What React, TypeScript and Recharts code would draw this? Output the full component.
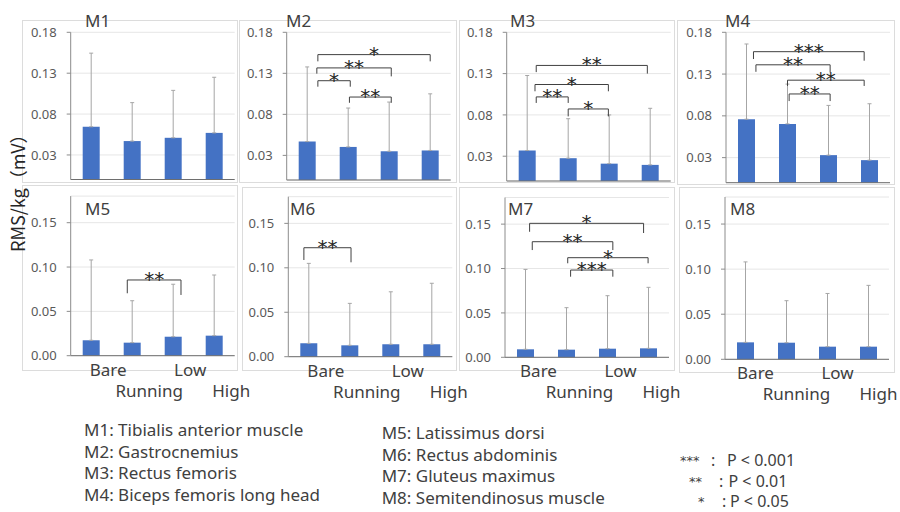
import React from "react";
import { BarChart, Bar, XAxis, YAxis, CartesianGrid, ErrorBar, ReferenceLine } from "recharts";

const conditions = ["Bare", "Running", "Low", "High"];

const muscleNames = [
  "M1: Tibialis anterior muscle",
  "M2: Gastrocnemius",
  "M3: Rectus femoris",
  "M4: Biceps femoris long head",
  "M5: Latissimus dorsi",
  "M6: Rectus abdominis",
  "M7: Gluteus maximus",
  "M8: Semitendinosus muscle",
];

const pStars = ["***", "**", "*"];
const pLevels = ["P < 0.001", "P < 0.01", "P < 0.05"];

// mean RMS/kg per condition and the upward SD bar
const m1Mean = [0.0645, 0.047, 0.051, 0.057];
const m1Sd = [0.09, 0.047, 0.058, 0.068];
const m2Mean = [0.0468, 0.0403, 0.035, 0.036];
const m2Sd = [0.091, 0.0474, 0.06, 0.069];
const m3Mean = [0.0369, 0.0276, 0.021, 0.0195];
const m3Sd = [0.0908, 0.0478, 0.059, 0.0685];
const m4Mean = [0.076, 0.0704, 0.033, 0.027];
const m4Sd = [0.09, 0.0476, 0.0595, 0.0675];
const m5Mean = [0.0174, 0.0147, 0.0214, 0.0226];
const m5Sd = [0.0906, 0.0473, 0.0592, 0.0684];
const m6Mean = [0.015, 0.0128, 0.014, 0.014];
const m6Sd = [0.09, 0.0472, 0.059, 0.0686];
const m7Mean = [0.009, 0.0086, 0.0097, 0.0101];
const m7Sd = [0.09, 0.0473, 0.0597, 0.0687];
const m8Mean = [0.0188, 0.0184, 0.014, 0.014];
const m8Sd = [0.0892, 0.0466, 0.059, 0.068];

const topTicks = [0.03, 0.08, 0.13, 0.18];
const bottomTicks = [0, 0.05, 0.1, 0.15];

// significance brackets: x in condition units (1..4), y in mV
type Bracket = { x1: number; x2: number; y: number; y1: number; y2: number; s: string };

const m2Brackets: Bracket[] = [
  { x1: 1.26, x2: 4.0, y: 0.1528, y1: 0.1446, y2: 0.1446, s: "*" },
  { x1: 1.235, x2: 3.05, y: 0.1366, y1: 0.1296, y2: 0.1263, s: "**" },
  { x1: 1.26, x2: 2.05, y: 0.121, y1: 0.1137, y2: 0.1137, s: "*" },
  { x1: 2.03, x2: 3.05, y: 0.1011, y1: 0.0941, y2: 0.0941, s: "**" },
];
const m3Brackets: Bracket[] = [
  { x1: 1.22, x2: 3.93, y: 0.1399, y1: 0.1318, y2: 0.13, s: "**" },
  { x1: 1.19, x2: 2.98, y: 0.1168, y1: 0.1086, y2: 0.1086, s: "*" },
  { x1: 1.22, x2: 2.0, y: 0.1018, y1: 0.0945, y2: 0.0945, s: "**" },
  { x1: 2.0, x2: 2.98, y: 0.0872, y1: 0.0782, y2: 0.0782, s: "*" },
];
const m4Brackets: Bracket[] = [
  { x1: 1.17, x2: 3.87, y: 0.1568, y1: 0.148, y2: 0.146, s: "***" },
  { x1: 1.23, x2: 3.04, y: 0.1411, y1: 0.1327, y2: 0.132, s: "**" },
  { x1: 2.0, x2: 3.87, y: 0.1227, y1: 0.1158, y2: 0.1158, s: "**" },
  { x1: 2.04, x2: 3.04, y: 0.1062, y1: 0.0977, y2: 0.0977, s: "**" },
];
const m5Brackets: Bracket[] = [{ x1: 1.88, x2: 3.19, y: 0.0854, y1: 0.0704, y2: 0.0685, s: "**" }];
const m6Brackets: Bracket[] = [{ x1: 0.88, x2: 2.03, y: 0.1226, y1: 0.1088, y2: 0.1062, s: "**" }];
const m7Brackets: Bracket[] = [
  { x1: 1.1, x2: 3.88, y: 0.1509, y1: 0.1414, y2: 0.14, s: "*" },
  { x1: 1.165, x2: 3.13, y: 0.1302, y1: 0.1208, y2: 0.1208, s: "**" },
  { x1: 2.03, x2: 3.99, y: 0.1122, y1: 0.1059, y2: 0.1059, s: "*" },
  { x1: 2.1, x2: 3.13, y: 0.0983, y1: 0.0908, y2: 0.0908, s: "***" },
];

const BAND = 41;
const YW = 40;

const panels = [
  { name: "M1", mean: m1Mean, sd: m1Sd, br: [] as Bracket[], f: [22, 20, 216, 163], ax: 70.7, top: 32.3, base: 179.5, row: 0, dx: 0, title: [85, 26.7] },
  { name: "M2", mean: m2Mean, sd: m2Sd, br: m2Brackets, f: [239, 20, 218, 163], ax: 286.7, top: 32.3, base: 180, row: 0, dx: 0, title: [286, 26.7] },
  { name: "M3", mean: m3Mean, sd: m3Sd, br: m3Brackets, f: [459, 20, 216, 163], ax: 506.7, top: 32.3, base: 181, row: 0, dx: 0, title: [510, 26.7] },
  { name: "M4", mean: m4Mean, sd: m4Sd, br: m4Brackets, f: [677, 20, 218, 165], ax: 726, top: 32.3, base: 182.7, row: 0, dx: 0, title: [725, 26.7] },
  { name: "M5", mean: m5Mean, sd: m5Sd, br: m5Brackets, f: [22, 185, 216, 186], ax: 70.7, top: 196.1, base: 355.7, row: 1, dx: 17, title: [85, 215] },
  { name: "M6", mean: m6Mean, sd: m6Sd, br: m6Brackets, f: [242, 187, 215, 184], ax: 288.3, top: 196.7, base: 356.7, row: 1, dx: 17, title: [290, 215] },
  { name: "M7", mean: m7Mean, sd: m7Sd, br: m7Brackets, f: [459, 187, 216, 184], ax: 505, top: 197.5, base: 357.3, row: 1, dx: 13, title: [508, 215] },
  { name: "M8", mean: m8Mean, sd: m8Sd, br: [] as Bracket[], f: [679, 187, 216, 186], ax: 725, top: 197, base: 359.3, row: 1, dx: 10, title: [730, 215] },
];

const starLabel = (s: string) => (props: any) => {
  const vb = props.viewBox || {};
  return (
    <text x={vb.x + (vb.width || 0) / 2} y={vb.y + 6} textAnchor="middle" fontFamily="DejaVu Sans" fontSize={20} fill="#262626">
      {s}
    </text>
  );
};

const ConditionTick = (props: any) => {
  const { x, y, payload, dx } = props;
  const i = Math.round(payload.value) - 1;
  const second = i % 2 === 1;
  return (
    <text x={x + dx} y={y + (second ? 41 : 20)} textAnchor="middle" fontFamily="Noto Sans" fontSize={17} fill="#404040">
      {conditions[i]}
    </text>
  );
};

function Panel({ p }: { p: (typeof panels)[number] }) {
  const [fl, ft, fw, fh] = p.f;
  const data = p.mean.map((v, i) => ({ x: i + 1, v, err: [0, p.sd[i]] }));
  const chartW = fw + 40;
  const chartH = p.row === 0 ? fh : fh + 40;
  const ml = p.ax - fl - YW;
  const mt = p.top - ft;
  const mr = chartW - ml - YW - BAND * 4;
  const xh = chartH - mt - (p.base - p.top);
  const bottom = p.row === 1;

  return (
    <>
      <div
        style={{
          position: "absolute",
          left: fl,
          top: ft,
          width: fw,
          height: fh,
          border: "1px solid #dcdcdc",
          boxSizing: "border-box",
        }}
      />
      <div style={{ position: "absolute", left: fl, top: ft }}>
        <BarChart width={chartW} height={chartH} data={data} margin={{ top: mt, right: mr, left: ml, bottom: 0 }}>
          <CartesianGrid vertical={false} stroke="#e6e6e6" />
          <XAxis
            dataKey="x"
            type="number"
            domain={[0.5, 4.5]}
            ticks={[1, 2, 3, 4]}
            interval={0}
            height={xh}
            axisLine={{ stroke: "#6e6e6e" }}
            tickLine={false}
            tickSize={0}
            tickMargin={0}
            tick={bottom ? (t: any) => <ConditionTick {...t} dx={p.dx} /> : false}
          />
          <YAxis
            type="number"
            domain={[0, 0.18]}
            ticks={bottom ? bottomTicks : topTicks}
            interval={0}
            width={YW}
            axisLine={{ stroke: "#8c8c8c" }}
            tickLine={{ stroke: "#8c8c8c" }}
            tickSize={4}
            tickMargin={10}
            tickFormatter={(v: number) => v.toFixed(2)}
            tick={{ fill: "#595959", fontSize: 13, fontFamily: "Noto Sans" }}
          />
          <Bar dataKey="v" fill="#4472c4" barSize={17} isAnimationActive={false}>
            <ErrorBar dataKey="err" direction="y" width={2} stroke="#a6a6a6" strokeWidth={1} isAnimationActive={false} />
          </Bar>
          {p.br.map((b, i) => (
            <React.Fragment key={i}>
              <ReferenceLine
                segment={[{ x: b.x1, y: b.y }, { x: b.x2, y: b.y }]}
                stroke="#404040"
                strokeWidth={1}
                ifOverflow="visible"
                label={starLabel(b.s)}
              />
              <ReferenceLine segment={[{ x: b.x1, y: b.y }, { x: b.x1, y: b.y1 }]} stroke="#404040" strokeWidth={1} ifOverflow="visible" />
              <ReferenceLine segment={[{ x: b.x2, y: b.y }, { x: b.x2, y: b.y2 }]} stroke="#404040" strokeWidth={1} ifOverflow="visible" />
            </React.Fragment>
          ))}
        </BarChart>
      </div>
    </>
  );
}

// legend layout for the p-value key: star start, colon, "P" start, baseline
const pKeyPos = [
  [680, 711, 727, 466],
  [689, 719, 728.5, 487],
  [698, 722, 730, 507],
];

export default function App() {
  return (
    <div style={{ position: "absolute", left: 0, top: 0, width: 900, height: 512, background: "#fff", overflow: "hidden" }}>
      {panels.map((p) => (
        <Panel key={p.name} p={p} />
      ))}
      <svg width={900} height={512} style={{ position: "absolute", left: 0, top: 0, pointerEvents: "none" }}>
        {panels.map((p) => (
          <text key={p.name} x={p.title[0]} y={p.title[1]} fontFamily="Noto Sans" fontSize={17} fill="#404040">
            {p.name}
          </text>
        ))}
        <text transform="translate(25, 252) rotate(-90)" fontFamily="Noto Sans CJK JP" fontSize={18} fill="#262626">
          RMS/kg（mV）
        </text>
        {muscleNames.slice(0, 4).map((n, i) => (
          <text key={n} x={84} y={436 + i * 21.7} fontFamily="Noto Sans" fontSize={17} fill="#404040">
            {n}
          </text>
        ))}
        {muscleNames.slice(4).map((n, i) => (
          <text key={n} x={381.7} y={439 + i * 21.7} fontFamily="Noto Sans" fontSize={17} fill="#404040">
            {n}
          </text>
        ))}
        {pStars.map((s, i) => {
          const [sx, cx, px, by] = pKeyPos[i];
          return (
            <g key={s} fill="#404040">
              <text x={sx} y={by - 1} fontFamily="DejaVu Sans" fontSize={13}>
                {s}
              </text>
              <text x={cx} y={by} fontFamily="Noto Sans" fontSize={16}>
                :
              </text>
              <text x={px} y={by} fontFamily="Noto Sans" fontSize={16}>
                {pLevels[i]}
              </text>
            </g>
          );
        })}
      </svg>
    </div>
  );
}
